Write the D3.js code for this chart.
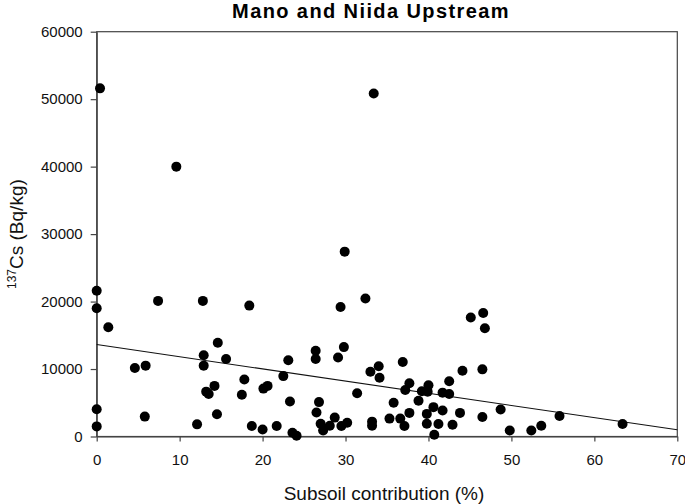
<!DOCTYPE html>
<html>
<head>
<meta charset="utf-8">
<script src="https://cdn.jsdelivr.net/npm/d3@7"></script>
<style>
  html, body { margin: 0; padding: 0; background: #fff; }
  svg { display: block; font-family: "Liberation Sans", Arial, sans-serif; }
</style>
</head>
<body>
<svg id="chart" width="685" height="504"></svg>
<script>
const titleText = "Mano and Niida Upstream";
const xLabel = "Subsoil contribution (%)";
const yTicks = [0, 10000, 20000, 30000, 40000, 50000, 60000];
const xTicks = [0, 10, 20, 30, 40, 50, 60, 70];

const subsoil = [
  0.0, 0.0, 1.4, 7.4, 12.8, 18.4, 14.6, 12.9, 12.9, 15.6,
  4.6, 5.9, 14.2, 13.2, 13.5, 17.8, 17.5, 20.1, 20.6, 0.0,
  0.0, 5.8, 12.1, 14.5, 18.7, 20.0, 21.7, 22.5, 32.4, 29.4,
  29.8, 29.1, 26.4, 26.4, 23.1, 23.3, 26.8, 26.5, 33.0, 34.0,
  34.1, 31.4, 36.9, 37.7, 37.2, 35.8, 38.8, 39.2, 40.0, 39.9,
  37.7, 35.3, 36.6, 37.1, 33.2, 33.2, 28.7, 30.2, 29.5, 28.1,
  27.0, 27.3, 23.6, 24.1, 39.8, 40.6, 41.7, 39.8, 41.2, 40.7,
  42.9, 41.7, 42.5, 42.5, 44.1, 43.8, 45.1, 46.6, 46.8, 46.5,
  46.5, 48.7, 49.8, 52.4, 53.6, 55.8, 63.4, 0.4, 9.6, 29.9,
  33.4
];
const cs137 = [
  21600, 19000, 16200, 20100, 20100, 19400, 13900, 12050, 10500, 11500,
  10150, 10500, 7500, 6650, 6300, 8450, 6200, 7100, 7500, 4050,
  1500, 2950, 1800, 3300, 1550, 1050, 1550, 8950, 20450, 19200,
  13250, 11700, 12700, 11500, 11300, 5200, 5100, 3550, 9600, 10400,
  8700, 6400, 11050, 7900, 6900, 5000, 5300, 6700, 7600, 6650,
  3500, 2650, 2650, 1550, 2200, 1600, 2800, 2050, 1550, 1600,
  1900, 900, 550, 100, 3350, 4350, 3850, 1900, 1850, 250,
  1750, 6500, 6300, 8200, 9750, 3500, 17650, 18300, 16050, 9950,
  2900, 4000, 900, 900, 1600, 3050, 1850, 51600, 40000, 27400,
  50850
];
// regression line end points
const fitX = [0, 70];
const fitY = [13630, 990];

const svg = d3.select("#chart");
const mLeft = 96.7, mRight = 677.3, mTop = 31.7, mBottom = 436.5;

const x = d3.scaleLinear().domain([0, 70]).range([mLeft, mRight]);
const y = d3.scaleLinear().domain([0, 60000]).range([mBottom, mTop]);

// frame
svg.append("rect")
  .attr("x", mLeft).attr("y", mTop)
  .attr("width", mRight - mLeft).attr("height", mBottom - mTop)
  .attr("fill", "none").attr("stroke", "#444").attr("stroke-width", 1.2);

// axes
const xAxis = d3.axisBottom(x).tickValues(xTicks).tickFormat(d3.format("d"))
  .tickSizeInner(5).tickSizeOuter(0).tickPadding(13);
const gx = svg.append("g").attr("transform", `translate(0,${mBottom})`).call(xAxis);
const yAxis = d3.axisLeft(y).tickValues(yTicks).tickFormat(d => String(d))
  .tickSizeInner(6).tickSizeOuter(0).tickPadding(8);
const gy = svg.append("g").attr("transform", `translate(${mLeft},0)`).call(yAxis);

[gx, gy].forEach(g => {
  g.select(".domain").attr("stroke", "#444").attr("stroke-width", 1.2);
  g.selectAll(".tick line").attr("stroke", "#444").attr("stroke-width", 1.2);
  g.selectAll(".tick text").attr("fill", "#111")
    .style("font-family", "'Liberation Sans', Arial, sans-serif")
    .style("font-size", "15px");
});

// regression line
svg.append("line")
  .attr("x1", x(fitX[0])).attr("y1", y(fitY[0]))
  .attr("x2", x(fitX[1])).attr("y2", y(fitY[1]))
  .attr("stroke", "#111").attr("stroke-width", 1.1);

// points
const pts = subsoil.map((v, i) => ({ x: v, y: cs137[i] }));
svg.append("g").selectAll("circle").data(pts).join("circle")
  .attr("cx", d => x(d.x)).attr("cy", d => y(d.y))
  .attr("r", 5).attr("fill", "#000");

// title
svg.append("text")
  .attr("x", 371).attr("y", 18)
  .attr("text-anchor", "middle")
  .style("font-size", "20px").style("font-weight", "bold")
  .style("letter-spacing", "1.4px")
  .attr("fill", "#000")
  .text(titleText);

// x label
svg.append("text")
  .attr("x", (mLeft + mRight) / 2 - 3).attr("y", 500)
  .attr("text-anchor", "middle")
  .style("font-size", "19px").attr("fill", "#111")
  .text(xLabel);

// y label
const yl = svg.append("text")
  .attr("transform", `translate(23,${(mTop + mBottom) / 2}) rotate(-90)`)
  .attr("text-anchor", "middle")
  .style("font-size", "19px").attr("fill", "#111");
yl.append("tspan").attr("dy", "-7").style("font-size", "12px").text("137");
yl.append("tspan").attr("dy", "7").text("Cs (Bq/kg)");
</script>
</body>
</html>
